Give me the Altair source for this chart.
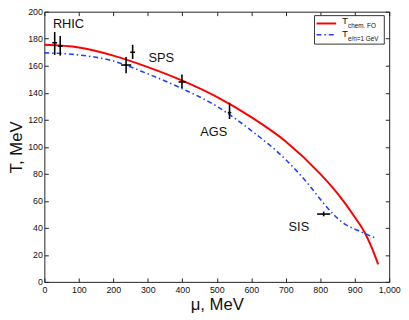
import altair as alt
import pandas as pd

# Chemical freeze-out curve (red, solid)
mu_chem = [0, 100, 200, 300, 400, 500, 600, 700, 800, 850, 900, 930, 950, 968]
T_chem = [175.5, 173.5, 167.5, 159, 149, 137, 122, 104, 80, 65.5, 48, 36, 25, 13]

# E/N = 1 GeV curve (blue, dash-dot)
mu_en = [0, 100, 200, 300, 400, 500, 600, 700, 760, 812, 840, 870, 910, 964]
T_en = [169.5, 168, 163.5, 154, 143, 130, 112, 90.5, 74, 57.5, 49.5, 43, 38, 32]

# Experimental points with error bars
pt_mu = [30, 46, 237, 256, 399, 537, 810]
pt_T = [177, 174.5, 160.5, 170, 148, 125.3, 50.2]
pt_mu_lo = [23, 40, 223, 249, 389, 532, 791]
pt_mu_hi = [37, 53, 252, 263, 410, 542, 829]
pt_T_lo = [168, 167.5, 154.5, 165, 143.5, 120.5, 48.5]
pt_T_hi = [185, 182, 166.5, 175.5, 153.5, 132.6, 52]

# Labels of accelerators
lab_text = ["RHIC", "SPS", "AGS", "SIS"]
lab_mu = [70, 339, 491, 738]
lab_T = [191, 166, 111, 40.7]

W, H = 351, 275
FONT = "Liberation Sans"

chem_df = pd.DataFrame({"mu": mu_chem, "T": T_chem})
en_df = pd.DataFrame({"mu": mu_en, "T": T_en})
pts_df = pd.DataFrame({"mu": pt_mu, "T": pt_T, "mu_lo": pt_mu_lo, "mu_hi": pt_mu_hi,
                       "T_lo": pt_T_lo, "T_hi": pt_T_hi})
lab_df = pd.DataFrame({"text": lab_text, "mu": lab_mu, "T": lab_T})

xs = alt.Scale(domain=[0, 1000], nice=False, zero=False)
ys = alt.Scale(domain=[0, 200], nice=False, zero=False)
xvals = list(range(0, 1001, 100))
yvals = list(range(0, 201, 20))

# main axes: labels + titles
red = alt.Chart(chem_df).mark_line(color="#ff0000", strokeWidth=2, interpolate="monotone").encode(
    x=alt.X("mu:Q", scale=xs, axis=alt.Axis(orient="bottom", values=xvals, ticks=False, domain=False,
                                              grid=False, labelFont=FONT, labelFontSize=9, labelColor="#111",
                                              labelPadding=4, title="μ, MeV", titleFont=FONT,
                                              titleFontSize=17, titleFontWeight="normal", titleColor="#111",
                                              titlePadding=2, labelFlush=False)),
    y=alt.Y("T:Q", scale=ys, axis=alt.Axis(orient="left", values=yvals, ticks=False, domain=False,
                                            grid=False, labelFont=FONT, labelFontSize=9, labelColor="#111",
                                            labelPadding=2, title="T, MeV", titleFont=FONT,
                                            titleFontSize=17, titleFontWeight="normal", titleColor="#111",
                                            titlePadding=2, labelFlush=False)),
    order="mu:Q",
)

# inward ticks along bottom (top-orient axis shifted down) and left (right-orient axis shifted left)
blue = alt.Chart(en_df).mark_line(color="#2040ff", strokeWidth=1.6, strokeDash=[5, 3, 1.5, 3],
                                  interpolate="monotone").encode(
    x=alt.X("mu:Q", scale=xs, axis=alt.Axis(orient="top", offset=-H, values=xvals, labels=False,
                                              domain=False, grid=False, tickSize=4, tickColor="#222",
                                              title=None)),
    y=alt.Y("T:Q", scale=ys, axis=alt.Axis(orient="right", offset=-W, values=yvals, labels=False,
                                            domain=False, grid=False, tickSize=4, tickColor="#222",
                                            title=None)),
    order="mu:Q",
)

# inward ticks along top and right
vbars = alt.Chart(pts_df).mark_rule(color="black", strokeWidth=1.6).encode(
    x=alt.X("mu:Q", scale=xs, axis=alt.Axis(orient="bottom", offset=-H, values=xvals, labels=False,
                                              domain=False, grid=False, tickSize=4, tickColor="#222",
                                              title=None)),
    y=alt.Y("T_lo:Q", scale=ys, axis=alt.Axis(orient="left", offset=-W, values=yvals, labels=False,
                                               domain=False, grid=False, tickSize=4, tickColor="#222",
                                               title=None)),
    y2="T_hi:Q",
)

hbars = alt.Chart(pts_df).mark_rule(color="black", strokeWidth=1.6).encode(
    x=alt.X("mu_lo:Q", scale=xs, axis=None),
    x2="mu_hi:Q",
    y=alt.Y("T:Q", scale=ys, axis=None),
)

labels = alt.Chart(lab_df).mark_text(font=FONT, fontSize=13, color="#111", baseline="middle",
                                     align="center").encode(
    x=alt.X("mu:Q", scale=xs, axis=None),
    y=alt.Y("T:Q", scale=ys, axis=None),
    text="text:N",
)

# manual legend (with subscripts)
one = pd.DataFrame({"a": [0]})
leg_box = alt.Chart(one).mark_rect(fill="white", stroke="#333", strokeWidth=1).encode(
    x=alt.value(275), x2=alt.value(346), y=alt.value(4), y2=alt.value(33))
leg_red = alt.Chart(one).mark_rule(color="#ff0000", strokeWidth=2).encode(
    x=alt.value(277), x2=alt.value(297), y=alt.value(12))
leg_blue = alt.Chart(one).mark_rule(color="#2040ff", strokeWidth=1.6, strokeDash=[5, 3, 1.5, 3]).encode(
    x=alt.value(277), x2=alt.value(297), y=alt.value(23.5))
leg_T1 = alt.Chart(one).mark_text(text="T", font=FONT, fontSize=10, align="left", baseline="alphabetic",
                                  color="#111").encode(x=alt.value(303), y=alt.value(13))
leg_s1 = alt.Chart(one).mark_text(text="chem. FO", font=FONT, fontSize=6.5, align="left",
                                  baseline="alphabetic", color="#111").encode(x=alt.value(309), y=alt.value(17))
leg_T2 = alt.Chart(one).mark_text(text="T", font=FONT, fontSize=10, align="left", baseline="alphabetic",
                                  color="#111").encode(x=alt.value(303), y=alt.value(26))
leg_s2 = alt.Chart(one).mark_text(text="e/n=1 GeV", font=FONT, fontSize=6.5, align="left",
                                  baseline="alphabetic", color="#111").encode(x=alt.value(309), y=alt.value(30))

chart = alt.layer(
    red, blue, vbars, hbars, labels,
    leg_box, leg_red, leg_blue, leg_T1, leg_s1, leg_T2, leg_s2,
).resolve_axis(x="independent", y="independent").properties(
    width=W, height=H,
    autosize=alt.AutoSizeParams(type="none"),
    padding={"left": 37, "top": 1, "right": 12, "bottom": 34},
    background="white",
).configure_view(stroke="#222", strokeWidth=1)

chart.save("out.html", embed_options={"renderer": "svg", "actions": False})
